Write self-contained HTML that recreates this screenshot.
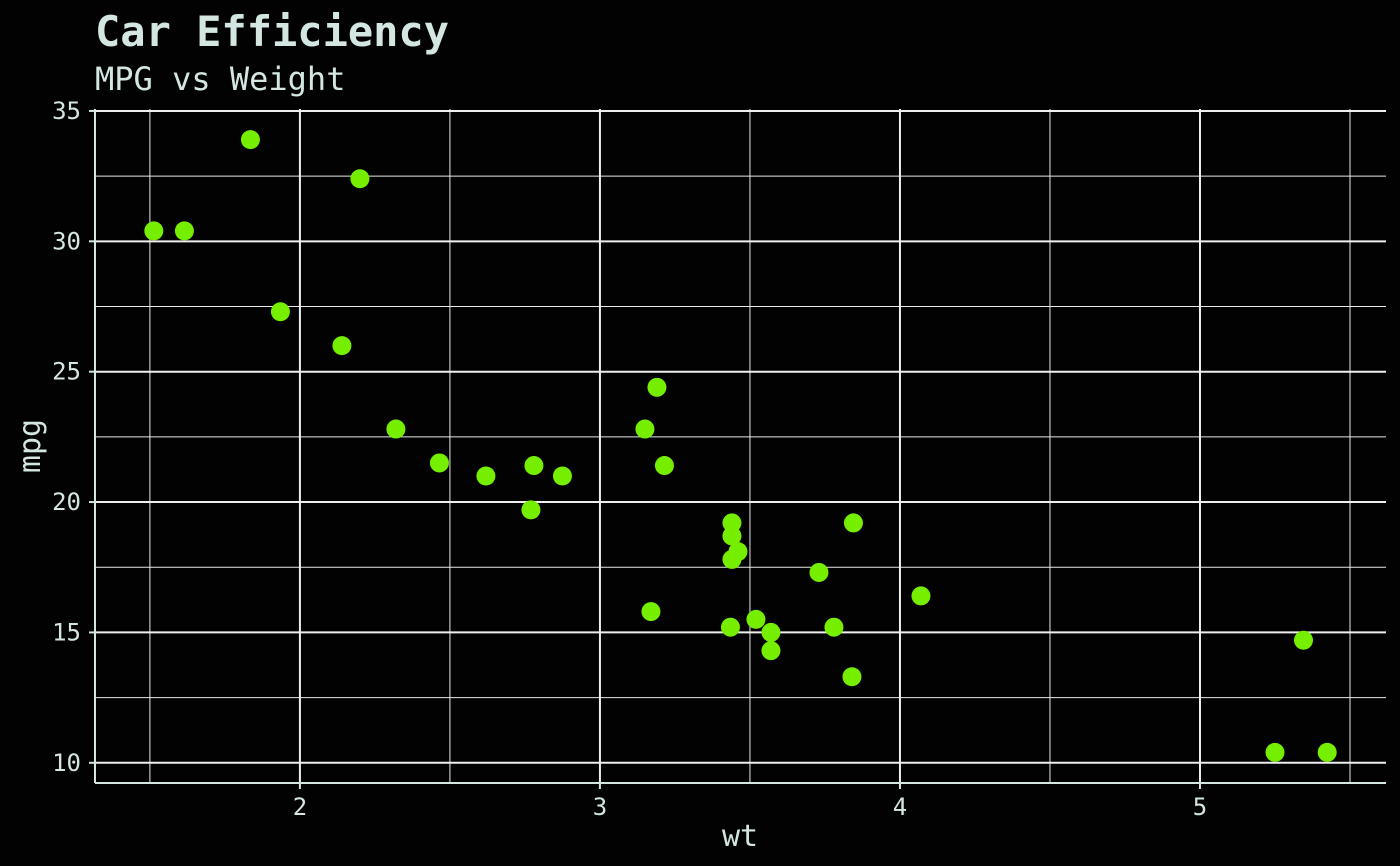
<!DOCTYPE html>
<html><head><meta charset="utf-8"><style>
html,body{margin:0;padding:0;background:#020202;}
svg{display:block;}
text{font-family:"DejaVu Sans Mono","Liberation Mono",monospace;fill:#d4e6e2;}
</style></head><body>
<svg id="chart" width="1400" height="866">
<rect width="1400" height="866" fill="#020202"/>
<text x="95" y="46" font-size="42" font-weight="bold">Car Efficiency</text>
<text x="95" y="90" font-size="32">MPG vs Weight</text>
<g id="grid"></g>
<g id="axes"></g>
<g id="points"></g>
<text x="740" y="846" font-size="30" text-anchor="middle">wt</text>
<text transform="translate(40,446) rotate(-90)" font-size="30" text-anchor="middle">mpg</text>
</svg>
<script>
const wt=[2.620,2.875,2.320,3.215,3.440,3.460,3.570,3.190,3.150,3.440,3.440,4.070,3.730,3.780,5.250,5.424,5.345,2.200,1.615,1.835,2.465,3.520,3.435,3.840,3.845,1.935,2.140,1.513,3.170,2.770,3.570,2.780];
const mpg=[21.0,21.0,22.8,21.4,18.7,18.1,14.3,24.4,22.8,19.2,17.8,16.4,17.3,15.2,10.4,10.4,14.7,32.4,30.4,33.9,21.5,15.5,15.2,13.3,19.2,27.3,26.0,30.4,15.8,19.7,15.0,21.4];
const xTicks=[2,3,4,5];
const yTicks=[10,15,20,25,30,35];
const xMinor=[1.5,2.5,3.5,4.5,5.5];
const yMinor=[12.5,17.5,22.5,27.5,32.5];
const L=95,R=1386,T=109,B=783;
const xmin=1.317,xmax=5.62,ymin=9.225,ymax=35.075;
const X=v=>L+(v-xmin)/(xmax-xmin)*(R-L);
const Y=v=>B-(v-ymin)/(ymax-ymin)*(B-T);
const NS="http://www.w3.org/2000/svg";
function mk(tag,attrs,parent){const e=document.createElementNS(NS,tag);for(const k in attrs)e.setAttribute(k,attrs[k]);parent.appendChild(e);return e;}
const grid=document.getElementById('grid'),axes=document.getElementById('axes'),pts=document.getElementById('points');
xMinor.forEach(v=>{const l=mk('line',{x1:X(v),x2:X(v),y1:T,y2:B,stroke:'#e8e8e8','stroke-width':1},grid);

});
yMinor.forEach(v=>{const l=mk('line',{x1:L,x2:R,y1:Y(v),y2:Y(v),stroke:'#e8e8e8','stroke-width':1},grid);

});
xTicks.forEach(v=>{const l=mk('line',{x1:X(v),x2:X(v),y1:T,y2:B,stroke:'#eeeeee','stroke-width':2},grid);


const tk=mk('line',{x1:X(v),x2:X(v),y1:B,y2:B+6,stroke:'#d4e6e2','stroke-width':2},axes);


const t=mk('text',{x:X(v),y:B+32,'font-size':24,'text-anchor':'middle'},axes);t.textContent=v;

});
yTicks.forEach(v=>{const l=mk('line',{x1:L,x2:R,y1:Y(v),y2:Y(v),stroke:'#eeeeee','stroke-width':2},grid);


const tk=mk('line',{x1:L-6,x2:L,y1:Y(v),y2:Y(v),stroke:'#d4e6e2','stroke-width':2},axes);


const t=mk('text',{x:L-14,y:Y(v)+8,'font-size':24,'text-anchor':'end'},axes);t.textContent=v;

});
const ax=mk('line',{x1:L,x2:R,y1:B,y2:B,stroke:'#d4e6e2','stroke-width':2},axes);


const ay=mk('line',{x1:L,x2:L,y1:T,y2:B,stroke:'#d4e6e2','stroke-width':2},axes);


wt.forEach((w,i)=>{const c=mk('circle',{cx:X(w),cy:Y(mpg[i]),r:9.5,fill:'#76ee00'},pts);

});
</script>
</body></html>
